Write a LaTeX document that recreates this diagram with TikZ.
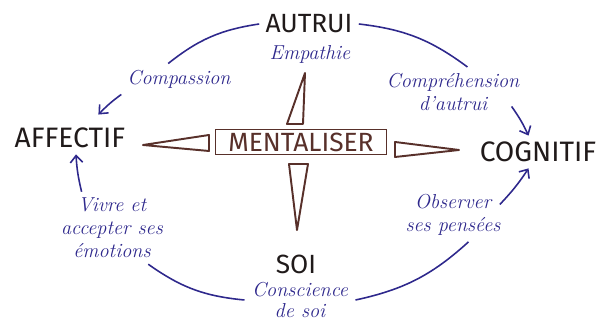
\documentclass[tikz,border=0pt]{standalone}
\usepackage{fontspec}
\setsansfont{Fira Sans}
\usepackage{tikz}
\usetikzlibrary{arrows.meta, positioning}
\definecolor{pen}{RGB}{46,40,140}
\definecolor{marker}{RGB}{88,48,42}
\definecolor{ink}{RGB}{32,26,26}
\tikzset{
    pole/.style = {text=ink, font=\sffamily\fontsize{15}{18}\selectfont},
    bigpole/.style = {pole, font=\sffamily\fontsize{16}{19}\selectfont},
    note/.style = {text=pen, align=center, font=\itshape\fontsize{11.5}{13}\selectfont},
    link/.style = {draw=pen, line width=0.9pt},
    wedge/.style = {draw=marker, line width=1.1pt, line join=round},
    core/.style = {rectangle, draw=marker, line width=1.1pt, text=marker,
                   minimum width=3.42cm, minimum height=0.5cm, inner sep=1pt,
                   font=\sffamily\fontsize{15}{18}\selectfont}
    }

\begin{document}
\begin{tikzpicture}[
      x = 0.02cm, y = -0.02cm, % one unit per pixel
      > = {Straight Barb[length=4pt, width=7pt]}, % arrow head style
      semithick % line style
    ]
    \useasboundingbox (0, 0) rectangle (600, 323);

    % the compass in the middle
    \node[core] (centre) at (301, 142) {MENTALISER};
    \draw[wedge] (305, 73) -- (287, 124) -- (303, 124) -- cycle;
    \draw[wedge] (289, 164) -- (308, 164) -- (297, 230) -- cycle;
    \draw[wedge] (143, 145) -- (209, 135) -- (209, 151) -- cycle;
    \draw[wedge] (395, 142) -- (395, 157) -- (459, 150) -- cycle;

    % the four poles
    \node[pole] (autrui) at (309, 24) {AUTRUI};
    \node[note] (empathie) at (310, 54) {Empathie};
    \node[bigpole] (affectif) at (70, 138) {AFFECTIF};
    \node[bigpole] (cognitif) at (538, 152) {COGNITIF};
    \node[pole, inner sep=1pt] (soi) at (296, 264) {SOI};
    \node[note, inner sep=1pt, font=\itshape\fontsize{11.5}{12}\selectfont] (conscience) at (300, 300) {Conscience\\de soi};

    % labels on the ring
    \node[note] (compassion) at (179, 79) {Compassion};
    \node[note] (comprehension) at (453, 92) {Compréhension\\d'autrui};
    \node[note] (vivre) at (112, 228) {Vivre et\\accepter ses\\émotions};
    \node[note] (observer) at (453, 215) {Observer\\ses pensées};

    % the ring
    \path[link] (autrui.west) edge[bend right=15] (compassion.125);
    \path[link] (compassion.195) edge[->, bend right=5] ([yshift=4pt]affectif.30);
    \path[link] (autrui.east) edge[bend left=15] (comprehension.60);
    \path[link] ([xshift=-8pt, yshift=6pt]comprehension.south east) edge[->, bend left=5] (cognitif.120);
    \path[link] ([xshift=-3pt]conscience.west) edge[bend left=15] (vivre.-45);
    \path[link] (vivre.130) edge[->, bend left=5] (affectif.-70);
    \path[link] ([xshift=3pt]conscience.east) edge[bend right=15] (observer.-60);
    \path[link] ([xshift=-4pt, yshift=6pt]observer.east) edge[->, bend right=5] (cognitif.-120);
\end{tikzpicture}
\end{document}
